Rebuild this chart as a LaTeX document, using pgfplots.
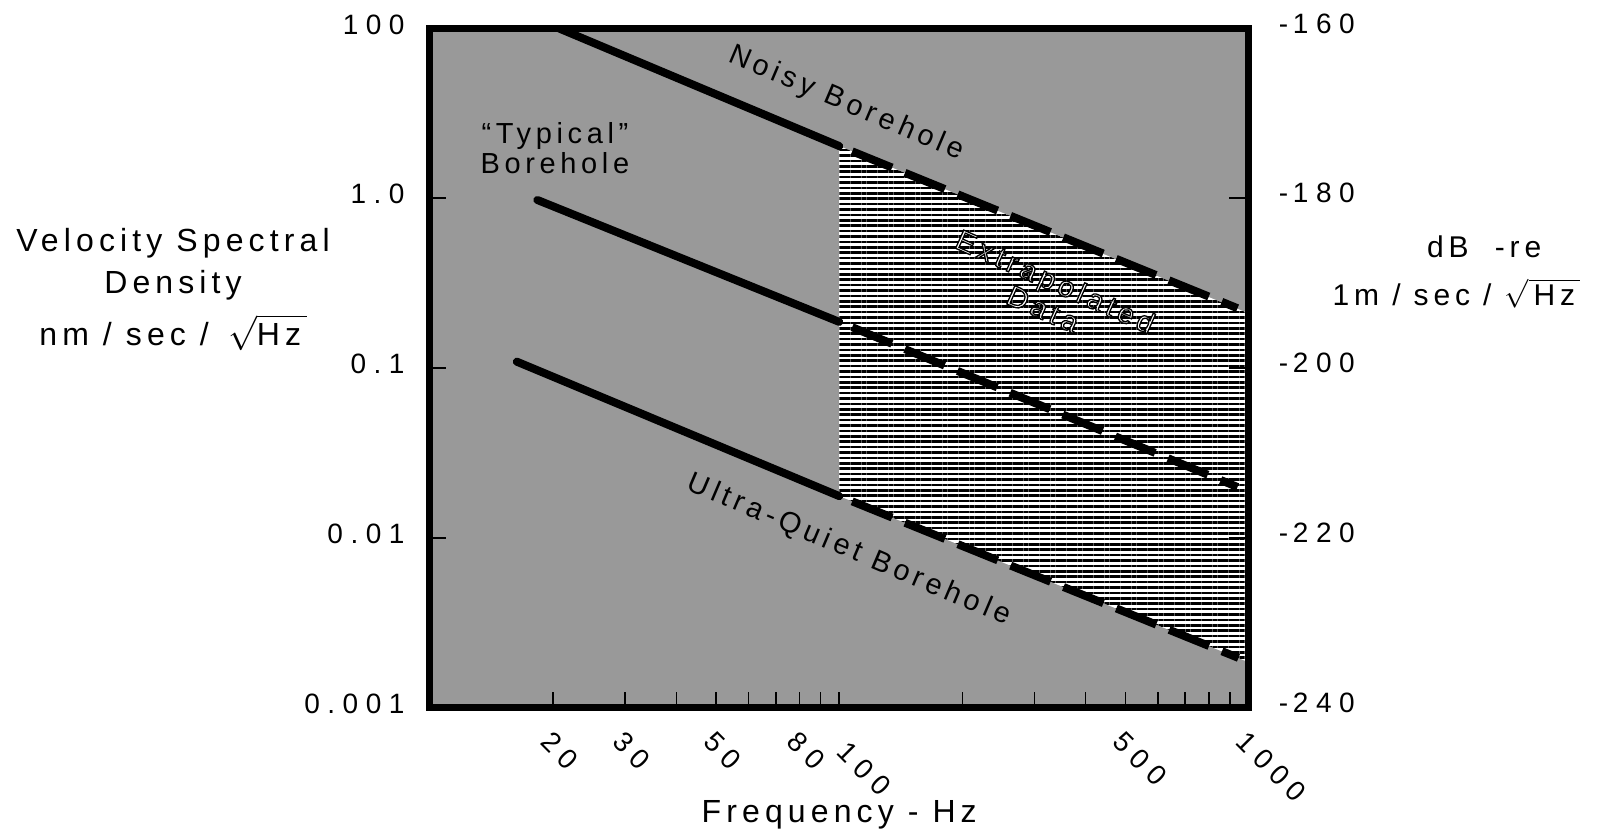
\documentclass[border=0pt]{standalone}
\usepackage{fontspec}
\setmainfont{Liberation Sans}
\newfontfamily\lsfont{Liberation Sans}[LetterSpace=16]
\newfontfamily\tickfont{Liberation Sans}[LetterSpace=27]
\usepackage{pgfplots}
\pgfplotsset{compat=1.18}
\usetikzlibrary{patterns.meta}
\newcommand{\outlined}[1]{\special{pdf:literal direct 2 Tr 0.65 w 0 0 0 RG 1 1 1 rg}#1\special{pdf:literal direct 0 Tr}}
\begin{document}
\begin{tikzpicture}
\path[use as bounding box] (-215pt,-64.25pt) rectangle (583.5pt,353.75pt);
\begin{axis}[
  at={(0,0)}, anchor=south west,
  scale only axis, width=409.25pt, height=339.5pt,
  xmode=log, ymode=log,
  xmin=10, xmax=1000, ymin=0.001, ymax=10,
  axis background/.style={fill=black!40},
  axis on top,
  axis line style={line width=3.5pt},
  xtick={20,30,50,80,100,500,1000},
  xticklabels={20,30,50,80,\hspace*{7pt}100,500,1000},
  minor xtick={40,60,70,90,200,300,400,600,700,800,900},
  ytick={0.001,0.01,0.1,1,10},
  yticklabels={0.001,0.01,0.1,1.0,100},
  yminorticks=false,
  xtick pos=left, ytick pos=left,
  tick align=inside,
  major tick length=8pt, minor tick length=8pt,
  every tick/.style={line width=0.8pt, black},
  xticklabel style={xshift=0pt, yshift=-11pt, rotate=-45, anchor=north west, inner sep=0pt, font=\tickfont\fontsize{14}{16}\selectfont},
  yticklabel style={anchor=east, inner sep=0pt, xshift=-12.5pt, yshift=2pt, font=\tickfont\fontsize{14}{16}\selectfont},
  clip mode=individual,
]
% extrapolated region (white base + horizontal hatching)
\addplot[draw=none, fill=white] coordinates {(100,2.03) (1000,0.21) (1000,0.00185) (100,0.0176)};
\addplot[draw=none, pattern={Lines[angle=0,distance=2.7pt,line width=1.3pt]}] coordinates {(100,2.03) (1000,0.21) (1000,0.00185) (100,0.0176)};
% Noisy borehole
\addplot[line width=4pt, line cap=round] coordinates {(20.7,10) (100,2.03)};
\addplot[line width=4pt, dash pattern=on 21.5pt off 7pt, dash phase=21.5pt] coordinates {(100,2.03) (940,0.225)};
% Typical borehole
\addplot[line width=4pt, line cap=round] coordinates {(18.3,0.977) (100,0.187)};
\addplot[line width=4pt, dash pattern=on 21.5pt off 7pt, dash phase=21.5pt] coordinates {(100,0.187) (940,0.0199)};
% Ultra-quiet borehole
\addplot[line width=4pt, line cap=round] coordinates {(16.3,0.109) (100,0.0176)};
\addplot[line width=4pt, dash pattern=on 21.5pt off 7pt, dash phase=21.5pt] coordinates {(100,0.0176) (945,0.00196)};
% labels
\node[rotate=-23, font=\lsfont\fontsize{14.5}{15}\selectfont] at (axis cs:104,3.6) {Noisy Borehole};
\node[align=center, font=\lsfont\fontsize{14.5}{15}\selectfont] at (axis cs:20.2,1.98) {“Typical”\\Borehole};
\node[rotate=-24, align=center, font=\lsfont\fontsize{14.5}{15}\selectfont] at (axis cs:326,0.269) {\outlined{Extrapolated}\\\outlined{Data}};
\node[rotate=-23, font=\lsfont\fontsize{14.5}{15}\selectfont] at (axis cs:105.7,0.00847) {Ultra-Quiet Borehole};
% axis titles
\node[align=center, font=\lsfont\fontsize{16}{21}\selectfont] at (rel axis cs:-0.314,0.616) {Velocity Spectral\\Density\\[5pt]nm\ /\ sec\ /\ \,$\sqrt{\mbox{Hz\,}}$};
\node[font=\lsfont\fontsize{16}{18}\selectfont] at (rel axis cs:0.5,-0.158) {Frequency - Hz};
\node[font=\lsfont\fontsize{15}{16}\selectfont] at (rel axis cs:1.288,0.678) {dB\ \ -re};
\node[font=\lsfont\fontsize{15}{16}\selectfont] at (rel axis cs:1.254,0.61) {1m\ /\ sec\ /\ $\sqrt{\mbox{\,Hz\,}}$};
\end{axis}
\begin{axis}[
  at={(0,0)}, anchor=south west,
  scale only axis, width=409.25pt, height=339.5pt,
  xmode=log, xmin=10, xmax=1000,
  ymin=-240, ymax=-160,
  axis x line=none, axis y line*=right,
  axis line style={line width=3.5pt},
  ytick={-240,-220,-200,-180,-160},
  yticklabels={-\,240,-\,220,-\,200,-\,180,-\,160},
  tick align=inside, major tick length=10pt,
  every tick/.style={line width=0.8pt, black},
  yticklabel style={anchor=west, inner sep=0pt, xshift=15pt, yshift=2.5pt, font=\tickfont\fontsize{14}{16}\selectfont},
]
\end{axis}
\end{tikzpicture}
\end{document}
